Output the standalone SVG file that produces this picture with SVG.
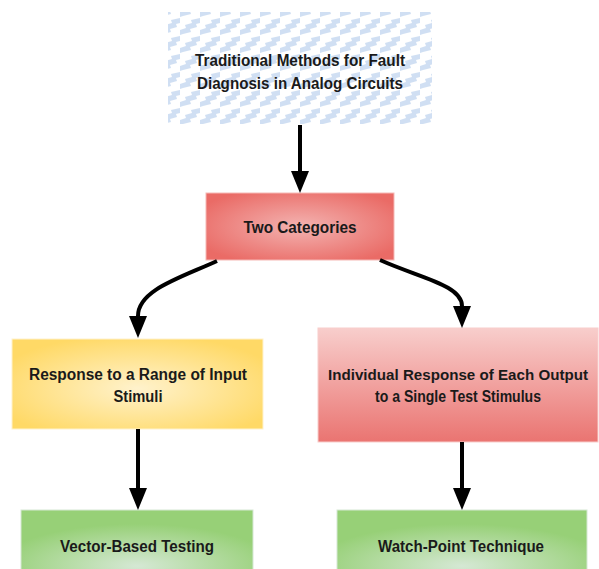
<svg xmlns="http://www.w3.org/2000/svg" width="599" height="569" viewBox="0 0 599 569">
  <style>
    .lbl { font-family: "Liberation Sans", Arial, sans-serif; font-weight: bold; font-size: 16px; fill: #1a1a1a; text-anchor: middle; }
    .edge { fill: none; stroke: #000; stroke-width: 4; }
  </style>
  <defs>
    <!-- light blue staircase hatch used by the title box -->
    <pattern id="zigzag" width="20" height="18" patternUnits="userSpaceOnUse">
      <rect width="20" height="18" fill="#ffffff"/>
      <polygon points="0,12 6,10 5,7 12,5 11,2 20,0 20,5 16,6 17,9 10,11 11,14 3,16 0,17" fill="#d0dff3"/>
    </pattern>
    <radialGradient id="gRed" cx="50%" cy="50%" r="60%">
      <stop offset="0" stop-color="#f3b3b1"/>
      <stop offset="1" stop-color="#ea6b66"/>
    </radialGradient>
    <radialGradient id="gYellow" cx="50%" cy="55%" r="60%">
      <stop offset="0" stop-color="#fff2cc"/>
      <stop offset="1" stop-color="#ffd966"/>
    </radialGradient>
    <radialGradient id="gGreen" cx="50%" cy="80%" r="60%">
      <stop offset="0" stop-color="#d5e8d4"/>
      <stop offset="1" stop-color="#97d077"/>
    </radialGradient>
    <linearGradient id="gPink" x1="0" y1="0" x2="0" y2="1">
      <stop offset="0" stop-color="#f8cecc"/>
      <stop offset="1" stop-color="#ea7471"/>
    </linearGradient>
    <marker id="head" markerUnits="userSpaceOnUse" markerWidth="22" markerHeight="18" refX="0" refY="9" orient="auto" viewBox="0 0 22 18">
      <path d="M0,0 L22,9 L0,18 Z" fill="#000"/>
    </marker>
  </defs>

  <g id="node-traditional">
    <rect x="168" y="12" width="264" height="112" fill="url(#zigzag)"/>
    <text class="lbl" x="300" y="66" textLength="210" lengthAdjust="spacingAndGlyphs">Traditional Methods for Fault</text>
    <text class="lbl" x="300" y="88.5" textLength="206" lengthAdjust="spacingAndGlyphs">Diagnosis in Analog Circuits</text>
  </g>

  <g id="node-categories">
    <rect x="206" y="193" width="188" height="67" fill="url(#gRed)" stroke="#f5b9b6" stroke-width="1"/>
    <text class="lbl" x="300" y="233" textLength="113" lengthAdjust="spacingAndGlyphs">Two Categories</text>
  </g>

  <g id="node-range">
    <rect x="12" y="339" width="251" height="90" fill="url(#gYellow)" stroke="#fff2cc" stroke-width="1"/>
    <text class="lbl" x="138" y="380" textLength="218" lengthAdjust="spacingAndGlyphs">Response to a Range of Input</text>
    <text class="lbl" x="138" y="402" textLength="49" lengthAdjust="spacingAndGlyphs">Stimuli</text>
  </g>

  <g id="node-individual">
    <rect x="318" y="328" width="280" height="114" fill="url(#gPink)" stroke="#f8cecc" stroke-width="1"/>
    <text class="lbl" x="458" y="380" style="font-size:15.5px" textLength="260" lengthAdjust="spacingAndGlyphs">Individual Response of Each Output</text>
    <text class="lbl" x="458" y="402" textLength="166" lengthAdjust="spacingAndGlyphs">to a Single Test Stimulus</text>
  </g>

  <g id="node-vector">
    <rect x="21" y="510" width="232" height="70" fill="url(#gGreen)" stroke="#d5e8d4" stroke-width="1"/>
    <text class="lbl" x="137" y="552" textLength="154" lengthAdjust="spacingAndGlyphs">Vector-Based Testing</text>
  </g>

  <g id="node-watch">
    <rect x="337" y="510" width="250" height="70" fill="url(#gGreen)" stroke="#d5e8d4" stroke-width="1"/>
    <text class="lbl" x="461" y="552" textLength="166" lengthAdjust="spacingAndGlyphs">Watch-Point Technique</text>
  </g>

  <g id="connectors">
    <path class="edge" d="M300,125 L300,171" marker-end="url(#head)"/>
    <path class="edge" d="M217,261 C180,278 138,290 138,316" marker-end="url(#head)"/>
    <path class="edge" d="M380,260 C420,278 462,285 462,306" marker-end="url(#head)"/>
    <path class="edge" d="M138,429 L138,488" marker-end="url(#head)"/>
    <path class="edge" d="M462,442 L462,488" marker-end="url(#head)"/>
  </g>
</svg>
